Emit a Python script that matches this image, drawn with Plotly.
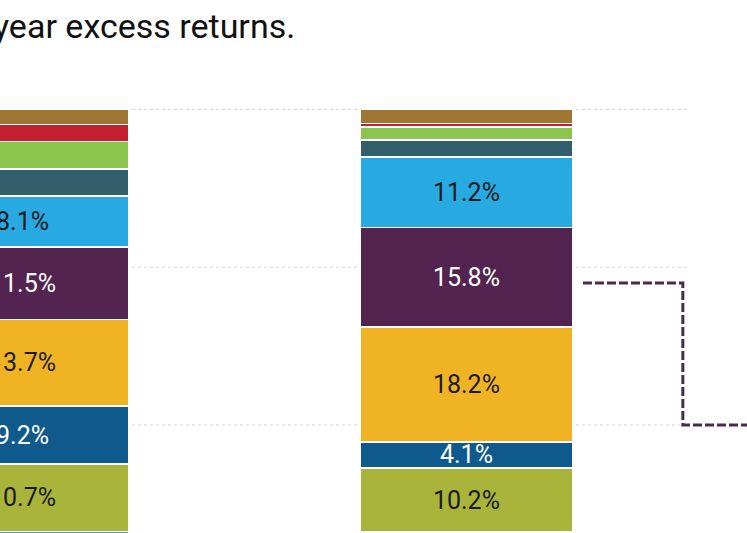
import plotly.graph_objects as go

# ---------------- data (percent contribution) ----------------
categories = ["Portfolio A", "Portfolio B"]

# stacked from bottom to top
series_names = [
    "Remainder (below view)", "Olive", "Blue", "Yellow", "Purple",
    "Light blue", "Teal", "Light green", "Red", "Brown",
]
remainder   = [33.1, 33.0]
olive       = [10.7, 10.2]
blue        = [9.2, 4.1]
yellow      = [13.7, 18.2]
purple      = [11.5, 15.8]
light_blue  = [8.1, 11.2]
teal        = [4.3, 2.7]
light_green = [4.3, 2.0]
red         = [2.7, 0.6]
brown       = [2.4, 2.2]

series_values = [remainder, olive, blue, yellow, purple,
                 light_blue, teal, light_green, red, brown]
series_colors = ["#4E96BB", "#A9B43A", "#0F5A8C", "#F0B323", "#52244F",
                 "#27A9E1", "#335E6B", "#8CC54E", "#C5202E", "#9E7533"]
labelled      = [False, True, True, True, True, True, False, False, False, False]
label_colors  = ["#1a1a1a", "#1a1a1a", "#ffffff", "#1a1a1a", "#ffffff",
                 "#1a1a1a", "#ffffff", "#1a1a1a", "#ffffff", "#ffffff"]

grid_values = [50, 75, 100]
title_text = "year excess returns."

# connector (dashed) from the purple segment of the second bar
connector_x = [1.2625, 1.4875, 1.4875, 1.70]
connector_y = [72.5, 72.5, 50, 50]

# ---------------- figure ----------------
positions = list(range(len(categories)))
fig = go.Figure()

for name, vals, col, lab, tcol in zip(series_names, series_values, series_colors,
                                       labelled, label_colors):
    fig.add_trace(go.Bar(
        x=positions, y=vals, name=name,
        marker=dict(color=col, line=dict(color="white", width=1.6)),
        text=[f"{v:.1f}%" for v in vals] if lab else None,
        textposition="inside" if lab else "none",
        insidetextanchor="middle",
        constraintext="none",
        textfont=dict(family="Roboto", size=25, color=tcol),
        customdata=categories,
        hoverinfo="skip",
    ))

fig.add_trace(go.Scatter(
    x=connector_x, y=connector_y, mode="lines",
    line=dict(color="#4B2A4F", width=3, dash="9px,3px"),
    hoverinfo="skip", showlegend=False,
))

x_min, x_max = -0.0507, 1.632
for g in grid_values:
    fig.add_shape(type="line", xref="x", yref="y",
                  x0=x_min, x1=1.5, y0=g, y1=g,
                  line=dict(color="#d6d6d6", width=1, dash="dot"),
                  layer="below")

fig.add_annotation(
    text=title_text, xref="paper", yref="paper",
    x=297 / 747, y=1 - 26 / 533, xanchor="right", yanchor="middle",
    showarrow=False, font=dict(family="Roboto", size=34, color="#111111"),
)

fig.update_layout(
    width=747, height=533,
    margin=dict(l=0, r=0, t=0, b=0),
    barmode="stack", bargap=0.52,
    paper_bgcolor="white", plot_bgcolor="white",
    showlegend=False,
    xaxis=dict(visible=False, type="linear", range=[x_min, x_max],
               tickvals=positions, ticktext=categories),
    yaxis=dict(visible=False, range=[32.88, 117.35]),
)

fig.write_html("out.html",
               config={"displayModeBar": False},
               post_script="document.body.style.margin='0px';document.body.style.overflow='hidden';")
